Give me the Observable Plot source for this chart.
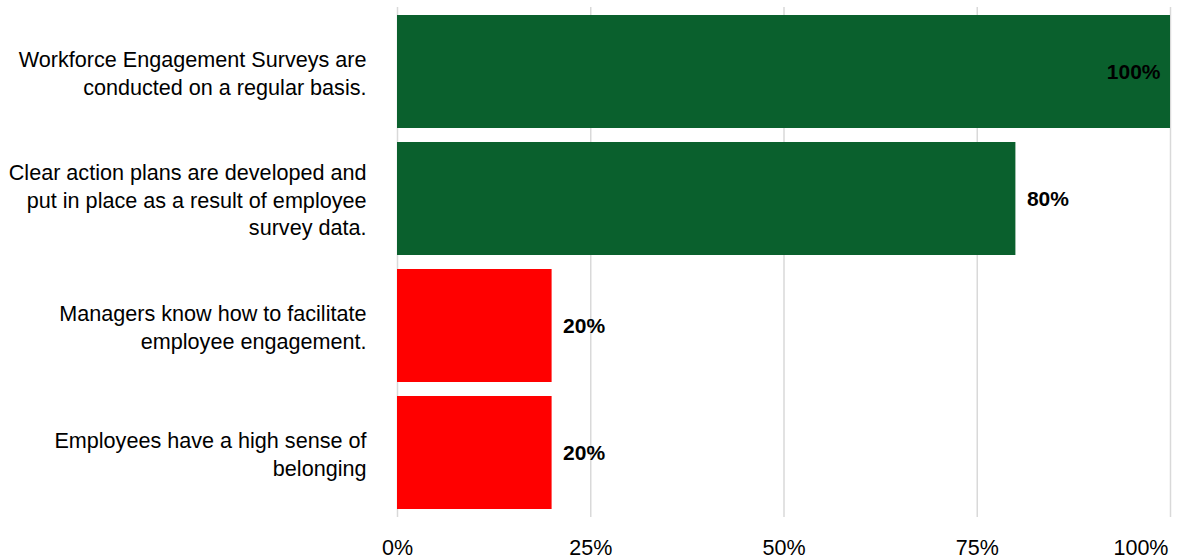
<!DOCTYPE html>
<html>
<head>
<meta charset="utf-8">
<script src="https://cdn.jsdelivr.net/npm/d3@7"></script>
<script src="https://cdn.jsdelivr.net/npm/@observablehq/plot@0.6"></script>
<style>
  html, body { margin: 0; padding: 0; background: #fff; }
  #chart svg { display: block; font-family: "Liberation Sans", Arial, sans-serif; }
</style>
</head>
<body>
<div id="chart"></div>
<script>
const categories = [
  "Workforce Engagement Surveys are\nconducted on a regular basis.",
  "Clear action plans are developed and\nput in place as a result of employee\nsurvey data.",
  "Managers know how to facilitate\nemployee engagement.",
  "Employees have a high sense of\nbelonging"
];
const values = [1.0, 0.8, 0.2, 0.2];
const barColors = ["#0a602d", "#0a602d", "#ff0000", "#ff0000"];
const xTicks = [0, 0.25, 0.5, 0.75, 1];

const data = categories.map((c, i) => ({category: c, value: values[i], color: barColors[i]}));
const pct = d => Math.round(d * 100) + "%";

const chart = Plot.plot({
  width: 1177,
  height: 560,
  marginLeft: 397,
  marginRight: 7,
  marginTop: 7,
  marginBottom: 43,
  style: {fontFamily: "'Liberation Sans', Arial, sans-serif", fontSize: "21px", color: "#000", background: "#fff"},
  x: {domain: [0, 1], label: null},
  y: {domain: categories, paddingInner: 0.11, paddingOuter: 0.055, axis: null, label: null},
  marks: [
    Plot.gridX(xTicks, {stroke: "#d9d9d9", strokeOpacity: 1, strokeWidth: 1.5}),
    Plot.barX(data, {x: "value", y: "category", fill: "color"}),
    Plot.text(data, {
      filter: d => d.value >= 1,
      x: "value", y: "category", text: d => pct(d.value),
      textAnchor: "end", dx: -10, fontWeight: "bold", fontSize: 21, fill: "#000"
    }),
    Plot.text(data, {
      filter: d => d.value < 1,
      x: "value", y: "category", text: d => pct(d.value),
      textAnchor: "start", dx: 11, fontWeight: "bold", fontSize: 21, fill: "#000"
    }),
    Plot.text(data, {
      y: "category", text: "category", frameAnchor: "left",
      textAnchor: "end", dx: -31, lineHeight: 1.28, fontSize: 21.6, fill: "#000"
    }),
    Plot.axisX(xTicks.filter(t => t < 1), {
      tickSize: 0, tickPadding: 22, tickFormat: pct, fontSize: 21.5, fill: "#000", label: null
    }),
    Plot.axisX(xTicks.filter(t => t >= 1), {
      tickSize: 0, tickPadding: 22, tickFormat: pct, fontSize: 21.5, fill: "#000", label: null,
      textAnchor: "end", dx: -2
    })
  ]
});
document.getElementById("chart").appendChild(chart);
</script>
</body>
</html>
